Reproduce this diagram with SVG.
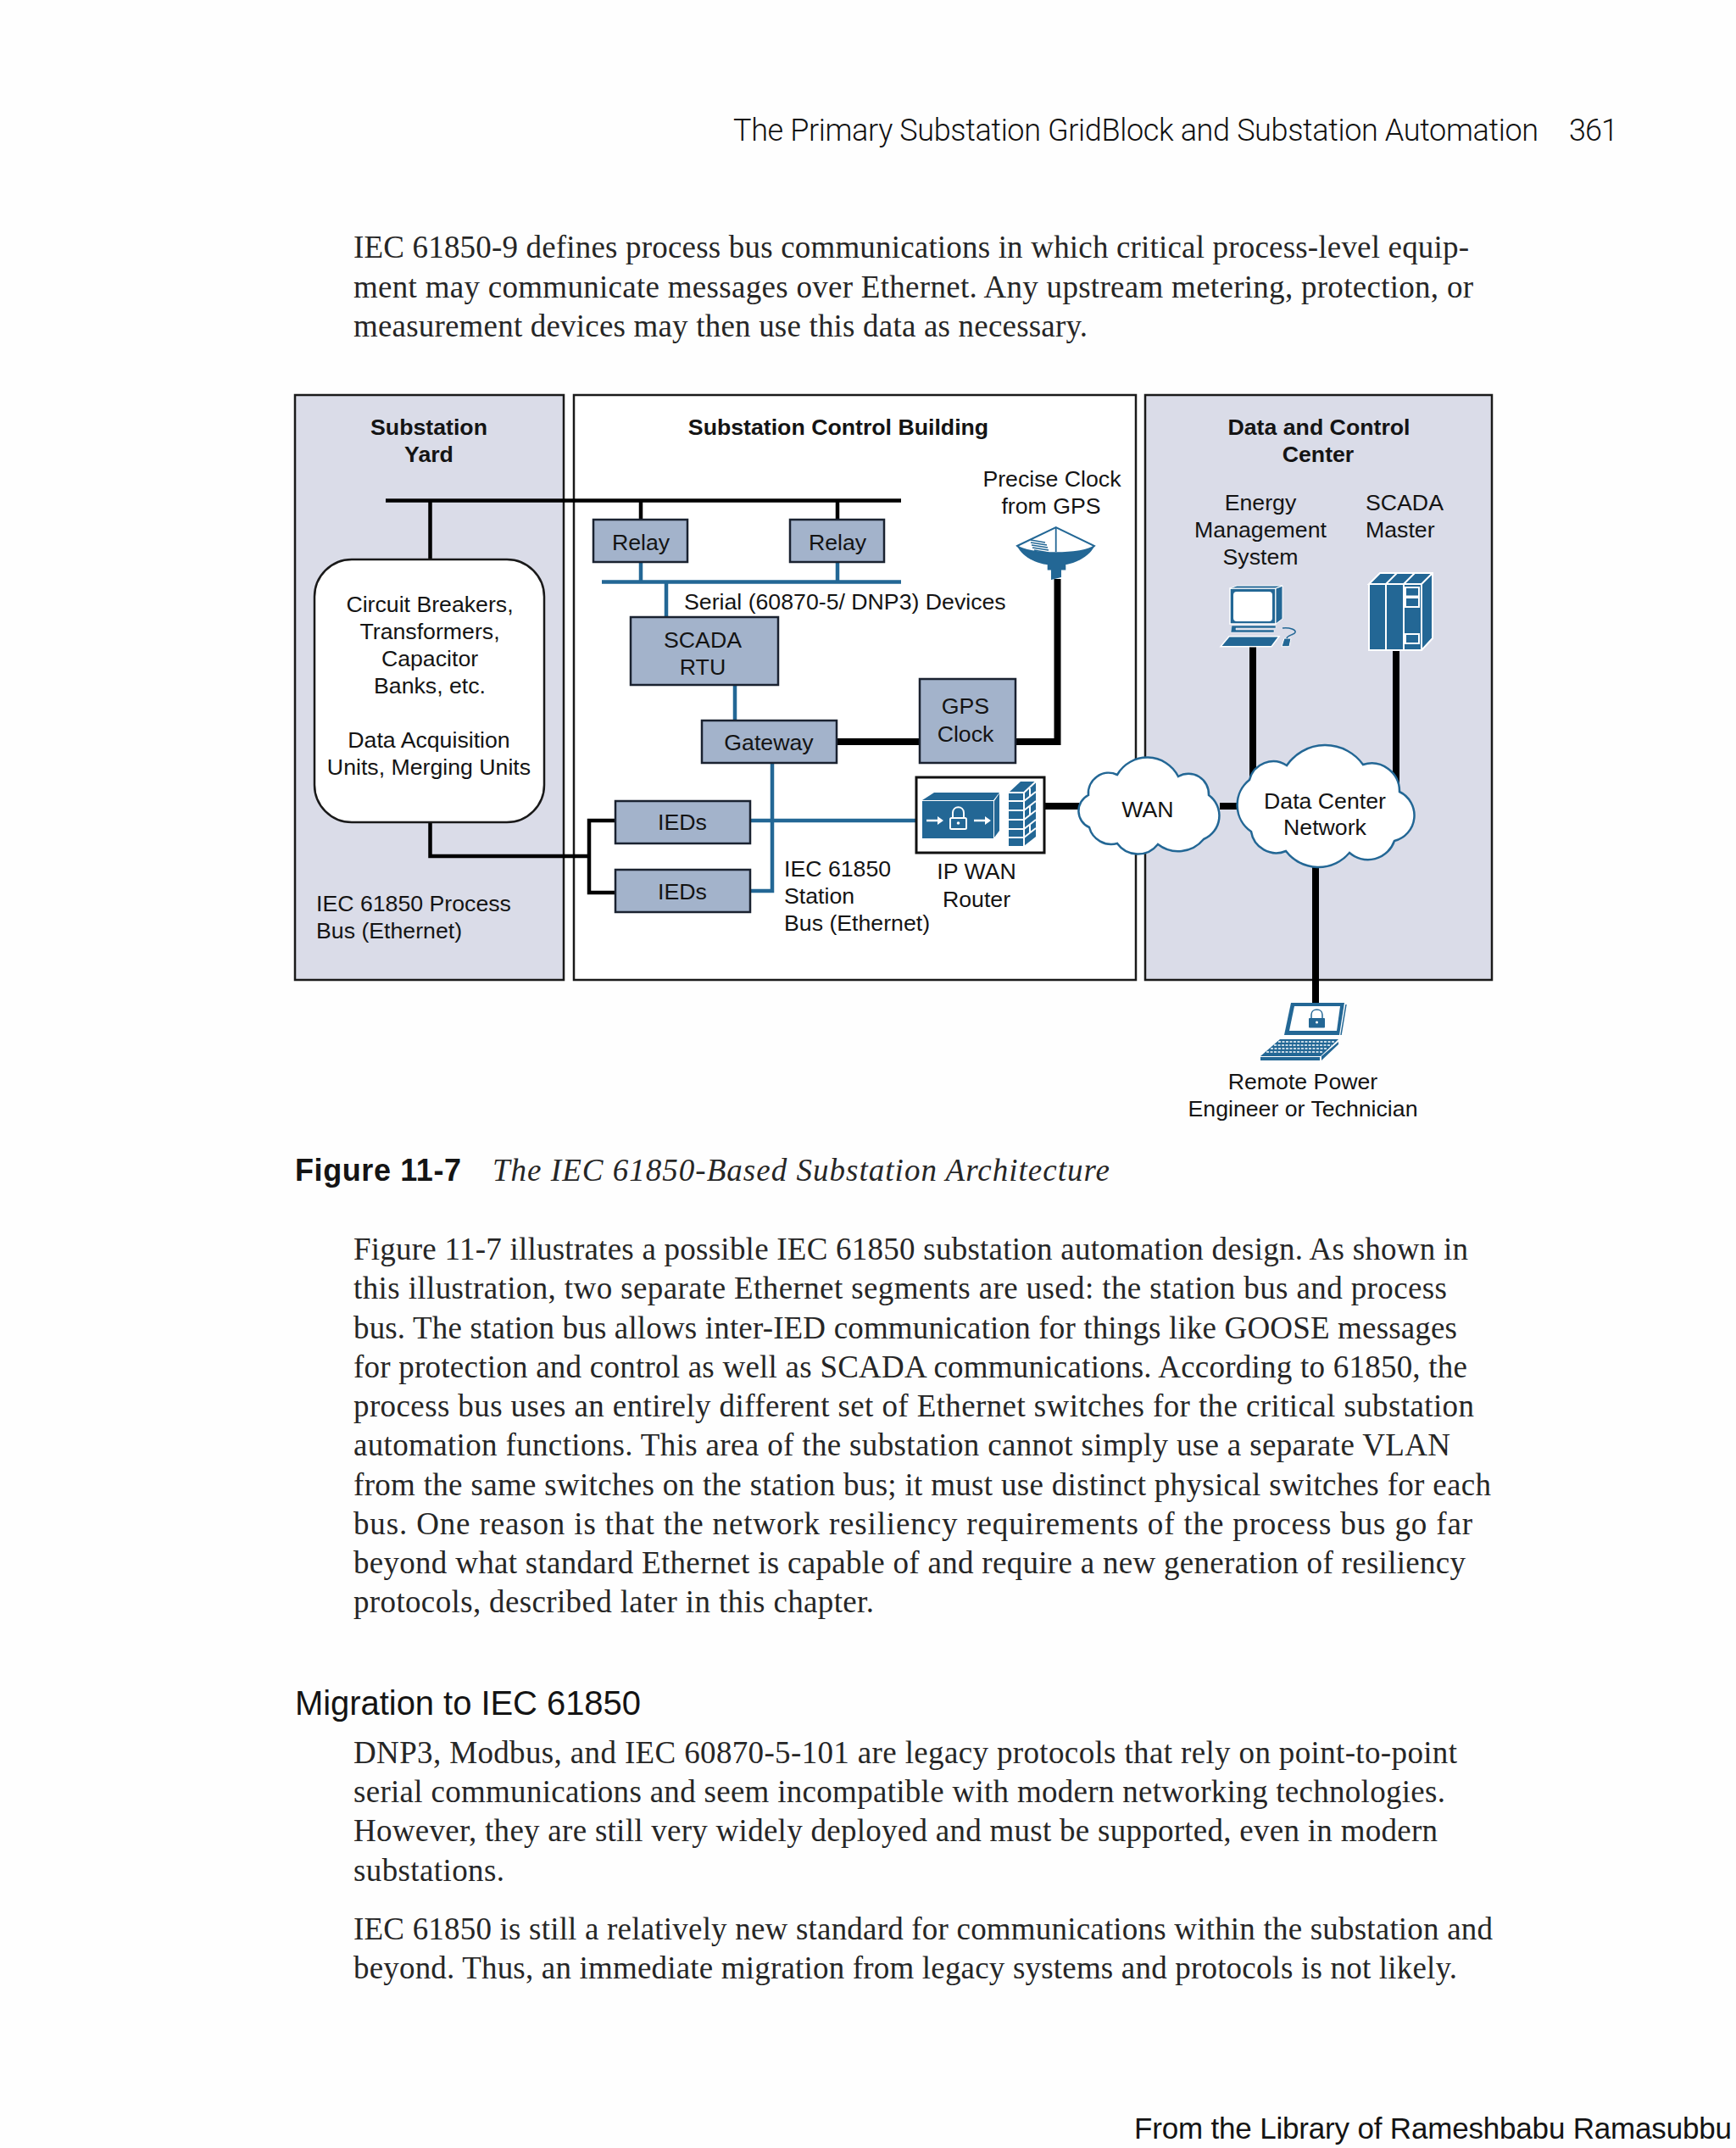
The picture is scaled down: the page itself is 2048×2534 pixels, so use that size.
<svg xmlns="http://www.w3.org/2000/svg" width="2048" height="2534" viewBox="0 0 2048 2534">
<style>
text{font-family:"Liberation Sans",Arial,sans-serif;font-size:26.7px;fill:#141414}
.c{text-anchor:middle}
.b{font-weight:bold}
.s{font-family:"Liberation Serif","Times New Roman",serif;font-size:37px;fill:#262626}
.l{font-family:Roboto,"Liberation Sans",sans-serif;font-weight:300;fill:#111}
.zone{stroke:#1a1a1a;stroke-width:2.5}
.fillz{fill:#dadce8}
.node{fill:#a3b3cb;stroke:#1a2230;stroke-width:2.5}
.blk{fill:none;stroke:#000;stroke-linejoin:miter}
.blu{fill:none;stroke:#236795;stroke-width:4.5}
.ic{fill:#236795}
.wl{fill:none;stroke:#fff;stroke-width:2}
.cloud{fill:#fff;stroke:#236795;stroke-width:2.5}
</style>
<rect width="2048" height="2534" fill="#fefefe"/>

<g id="page-text">
<text class="l" x="865" y="166" style="font-size:36px" textLength="950" lengthAdjust="spacing">The Primary Substation GridBlock and Substation Automation</text>
<text class="l" x="1851" y="166" style="font-size:36px" textLength="58" lengthAdjust="spacing">361</text>
<text class="s" x="417" y="304" textLength="1316">IEC 61850-9 defines process bus communications in which critical process-level equip-</text>
<text class="s" x="417" y="351" textLength="1321">ment may communicate messages over Ethernet. Any upstream metering, protection, or</text>
<text class="s" x="417" y="397" textLength="866">measurement devices may then use this data as necessary.</text>
<text x="348" y="1393" style="font-size:36px;font-weight:bold" textLength="196" lengthAdjust="spacing">Figure 11-7</text>
<text class="s" x="581" y="1393" style="font-style:italic" textLength="728">The IEC 61850-Based Substation Architecture</text>
<text class="s" x="417" y="1486" textLength="1315">Figure 11-7 illustrates a possible IEC 61850 substation automation design. As shown in</text>
<text class="s" x="417" y="1532" textLength="1290">this illustration, two separate Ethernet segments are used: the station bus and process</text>
<text class="s" x="417" y="1579" textLength="1302">bus. The station bus allows inter-IED communication for things like GOOSE messages</text>
<text class="s" x="417" y="1625" textLength="1314">for protection and control as well as SCADA communications. According to 61850, the</text>
<text class="s" x="417" y="1671" textLength="1322">process bus uses an entirely different set of Ethernet switches for the critical substation</text>
<text class="s" x="417" y="1717" textLength="1294">automation functions. This area of the substation cannot simply use a separate VLAN</text>
<text class="s" x="417" y="1764" textLength="1342">from the same switches on the station bus; it must use distinct physical switches for each</text>
<text class="s" x="417" y="1810" textLength="1320">bus. One reason is that the network resiliency requirements of the process bus go far</text>
<text class="s" x="417" y="1856" textLength="1312">beyond what standard Ethernet is capable of and require a new generation of resiliency</text>
<text class="s" x="417" y="1902" textLength="614">protocols, described later in this chapter.</text>
<text x="348" y="2023" style="font-size:40px" textLength="408" lengthAdjust="spacing">Migration to IEC 61850</text>
<text class="s" x="417" y="2080" textLength="1302">DNP3, Modbus, and IEC 60870-5-101 are legacy protocols that rely on point-to-point</text>
<text class="s" x="417" y="2126" textLength="1288">serial communications and seem incompatible with modern networking technologies.</text>
<text class="s" x="417" y="2172" textLength="1279">However, they are still very widely deployed and must be supported, even in modern</text>
<text class="s" x="417" y="2219" textLength="178">substations.</text>
<text class="s" x="417" y="2288" textLength="1344">IEC 61850 is still a relatively new standard for communications within the substation and</text>
<text class="s" x="417" y="2334" textLength="1302">beyond. Thus, an immediate migration from legacy systems and protocols is not likely.</text>
<text x="1338" y="2523" style="font-size:35px" textLength="705" lengthAdjust="spacing">From the Library of Rameshbabu Ramasubbu</text>
</g>

<g id="zones">
<g id="zone-yard"><rect class="zone fillz" x="348" y="466" width="317" height="690"/>
<text class="c b" x="506" y="513">Substation</text><text class="c b" x="506" y="545">Yard</text>
<text x="373" y="1075">IEC 61850 Process</text><text x="373" y="1107">Bus (Ethernet)</text></g>
<g id="zone-building"><rect class="zone" fill="#fff" x="677" y="466" width="663" height="690"/>
<text class="c b" x="989" y="513">Substation Control Building</text>
<text class="c" x="1241" y="574">Precise Clock</text><text class="c" x="1240" y="606">from GPS</text>
<text x="807" y="719">Serial (60870-5/ DNP3) Devices</text>
<text x="925" y="1034">IEC 61850</text><text x="925" y="1066">Station</text><text x="925" y="1098">Bus (Ethernet)</text>
<text class="c" x="1152" y="1037">IP WAN</text><text class="c" x="1152" y="1070">Router</text></g>
<g id="zone-center"><rect class="zone fillz" x="1351" y="466" width="409" height="690"/>
<text class="c b" x="1556" y="513">Data and Control</text><text class="c b" x="1555" y="545">Center</text>
<text class="c" x="1487" y="602">Energy</text><text class="c" x="1487" y="634">Management</text><text class="c" x="1487" y="666">System</text>
<text x="1611" y="602">SCADA</text><text x="1611" y="634">Master</text></g>
</g>

<g id="connectors">
<path class="blk" stroke-width="4.5" d="M455 590.500H1063M507.500 590V660M756 590V613M988 590V613"/>
<path class="blk" stroke-width="4.5" d="M507.500 970V1010H695M725 968H695V1053H725"/>
<path class="blu" d="M710 686.500H1063M756 663V686.500M988 663V686.500M786 686.500V728M867 808V850M911 900V1051H885M885 968H1081"/>
<path class="blk" stroke-width="8" d="M987 875H1084M1198 875H1247.500V683M1232 951H1273M1439 951H1460"/>
<path class="blk" stroke-width="8" d="M1478 763V930M1647 768V930M1552 1023V1184"/>
</g>

<g id="node-field"><rect x="371" y="660" width="271" height="310" rx="44" fill="#fff" stroke="#1a1a1a" stroke-width="2.500"/>
<text class="c" x="507" y="722">Circuit Breakers,</text><text class="c" x="507" y="754">Transformers,</text><text class="c" x="507" y="786">Capacitor</text><text class="c" x="507" y="818">Banks, etc.</text>
<text class="c" x="506" y="882">Data Acquisition</text><text class="c" x="506" y="914">Units, Merging Units</text></g>
<g id="node-relay1"><rect class="node" x="700" y="613" width="111" height="50"/><text class="c" x="756" y="649">Relay</text></g>
<g id="node-relay2"><rect class="node" x="932" y="613" width="111" height="50"/><text class="c" x="988" y="649">Relay</text></g>
<g id="node-rtu"><rect class="node" x="744" y="728" width="174" height="80"/><text class="c" x="829" y="764">SCADA</text><text class="c" x="829" y="796">RTU</text></g>
<g id="node-gateway"><rect class="node" x="828" y="850" width="159" height="50"/><text class="c" x="907" y="885">Gateway</text></g>
<g id="node-gps"><rect class="node" x="1085" y="801" width="113" height="99"/><text class="c" x="1139" y="842">GPS</text><text class="c" x="1139" y="875">Clock</text></g>
<g id="node-ieds1"><rect class="node" x="726" y="945" width="159" height="50"/><text class="c" x="805" y="979">IEDs</text></g>
<g id="node-ieds2"><rect class="node" x="726" y="1026" width="159" height="50"/><text class="c" x="805" y="1061">IEDs</text></g>

<g id="node-dish">
<path class="ic" d="M1200 644C1206 658 1226 667 1245.700 667C1265 667 1285 658 1291 644Z"/>
<rect class="ic" x="1235.700" y="666" width="21.600" height="6.500"/>
<path class="ic" d="M1240 672H1252V681L1240 684Z"/>
<path d="M1200 644L1245.700 622L1291 644C1280 655 1212 655 1200 644Z" fill="#fff" stroke="#236795" stroke-width="2"/>
<path d="M1245.700 622V651" stroke="#236795" stroke-width="1.800"/>
<path d="M1216 637L1233 640M1216 640L1235 643M1217 643L1236 646M1218 646L1237 649M1220 649L1237 652" stroke="#236795" stroke-width="1.300"/>
</g>

<g id="node-router"><rect x="1081" y="917" width="151" height="89" fill="#fff" stroke="#111" stroke-width="3"/>
<rect class="ic" x="1088" y="945" width="84" height="44"/>
<path class="ic" d="M1088 944L1102 935H1179L1172 944ZM1173 945L1179 936V980L1173 988Z"/>
<path d="M1093 968H1110" stroke="#fff" stroke-width="2.500"/><path d="M1149 968H1166" stroke="#fff" stroke-width="2.500"/>
<path d="M1106 963L1113 968L1106 973ZM1162 963L1169 968L1162 973Z" fill="#fff"/>
<rect x="1121" y="965" width="19" height="13" rx="1.500" fill="none" stroke="#fff" stroke-width="2"/>
<path class="wl" d="M1124 965V959C1124 950 1137 950 1137 959V965"/>
<circle cx="1130.500" cy="971" r="1.800" fill="#fff"/>
<path class="ic" d="M1190 935L1204 922H1222V987L1208 998H1190Z"/>
<path class="wl" d="M1190 945H1208M1190 956H1208M1190 967H1208M1190 978H1208M1190 988H1208M1208 935V998M1190 935H1208L1222 922M1208 945L1222 934M1208 956L1222 945M1208 967L1222 956M1208 978L1222 967M1208 988L1222 977M1215 930V940M1215 951V961M1215 972V982"/>
</g>

<g id="node-wan"><path class="cloud" d="M1284 938A24 24 0 0 1 1318 914A41 41 0 0 1 1390 916A24 24 0 0 1 1426 938A30 30 0 0 1 1420 990A39 39 0 0 1 1366 996A30 30 0 0 1 1318 995A27 27 0 0 1 1285 976A21 21 0 0 1 1284 938Z"/>
<text class="c" x="1354" y="964">WAN</text></g>
<g id="node-dc"><path class="cloud" d="M1474 920A29 29 0 0 1 1518 903A55 55 0 0 1 1608 902A33 33 0 0 1 1651 934A31 31 0 0 1 1645 992A33 33 0 0 1 1592 1006A48 48 0 0 1 1517 1004A30 30 0 0 1 1476 981A38 38 0 0 1 1474 920Z"/>
<text class="c" x="1563" y="954">Data Center</text><text class="c" x="1563" y="985">Network</text></g>

<g id="node-ems">
<rect class="ic" x="1451" y="694" width="54" height="42" stroke="#fff" stroke-width="1.500"/>
<path class="ic" d="M1451 694L1459 691H1513L1505 694ZM1505 694L1513 691V730L1505 736Z" stroke="#fff" stroke-width="1"/>
<rect x="1455" y="698" width="46" height="35" rx="4" fill="#fff"/>
<path class="ic" d="M1453 738H1505V741H1458V743H1503V746H1452Z" stroke="#fff" stroke-width=".5"/>
<path class="ic" d="M1440 762.700L1450 750.700H1509L1500 762.700Z" stroke="#fff" stroke-width="1.500"/>
<path class="ic" d="M1512 762.700L1515 753H1523L1521 762.700Z" stroke="#fff" stroke-width="1"/>
<path d="M1513 741C1522 740 1529 743 1528 746C1527 749 1519 749 1518 753" fill="none" stroke="#236795" stroke-width="1.500"/>
</g>
<g id="node-scada">
<path class="ic" d="M1615 689L1628 676H1690V753L1677 767H1615Z"/>
<path class="wl" d="M1615 689V767H1677V689H1615L1628 676H1690V753L1677 767M1677 689L1690 676M1635 689V767M1656 689V767M1635 689L1648 676M1656 689L1669 676"/>
<rect class="wl" x="1658" y="693" width="16" height="10.500"/><rect class="wl" x="1658" y="705" width="16" height="11"/><rect class="wl" x="1658" y="748" width="16" height="11"/>
</g>
<g id="node-laptop">
<path class="ic" d="M1523 1183H1586L1580 1221H1515Z"/>
<path d="M1527 1187H1581L1577 1216H1521Z" fill="#fff"/>
<path d="M1588 1185L1582 1221" stroke="#236795" stroke-width="1.500"/>
<rect class="ic" x="1544" y="1201" width="19" height="11.500" rx="1"/>
<path d="M1547 1201V1197C1547 1189 1560 1189 1560 1197V1201" fill="none" stroke="#236795" stroke-width="1.500"/>
<circle cx="1553.500" cy="1206" r="1.500" fill="#fff"/>
<path class="ic" d="M1510 1226H1579L1558 1246H1487Z"/>
<path d="M1508 1229H1574M1503 1233H1571M1499 1237H1566M1494 1241H1561" stroke="#fff" stroke-width="1.300" stroke-dasharray="3 1.500"/>
<path class="ic" d="M1487 1247H1557V1251H1487ZM1559 1246L1579 1229V1232L1559 1251Z"/>
<text class="c" x="1537" y="1285">Remote Power</text><text class="c" x="1537" y="1317">Engineer or Technician</text>
</g>
</svg>
